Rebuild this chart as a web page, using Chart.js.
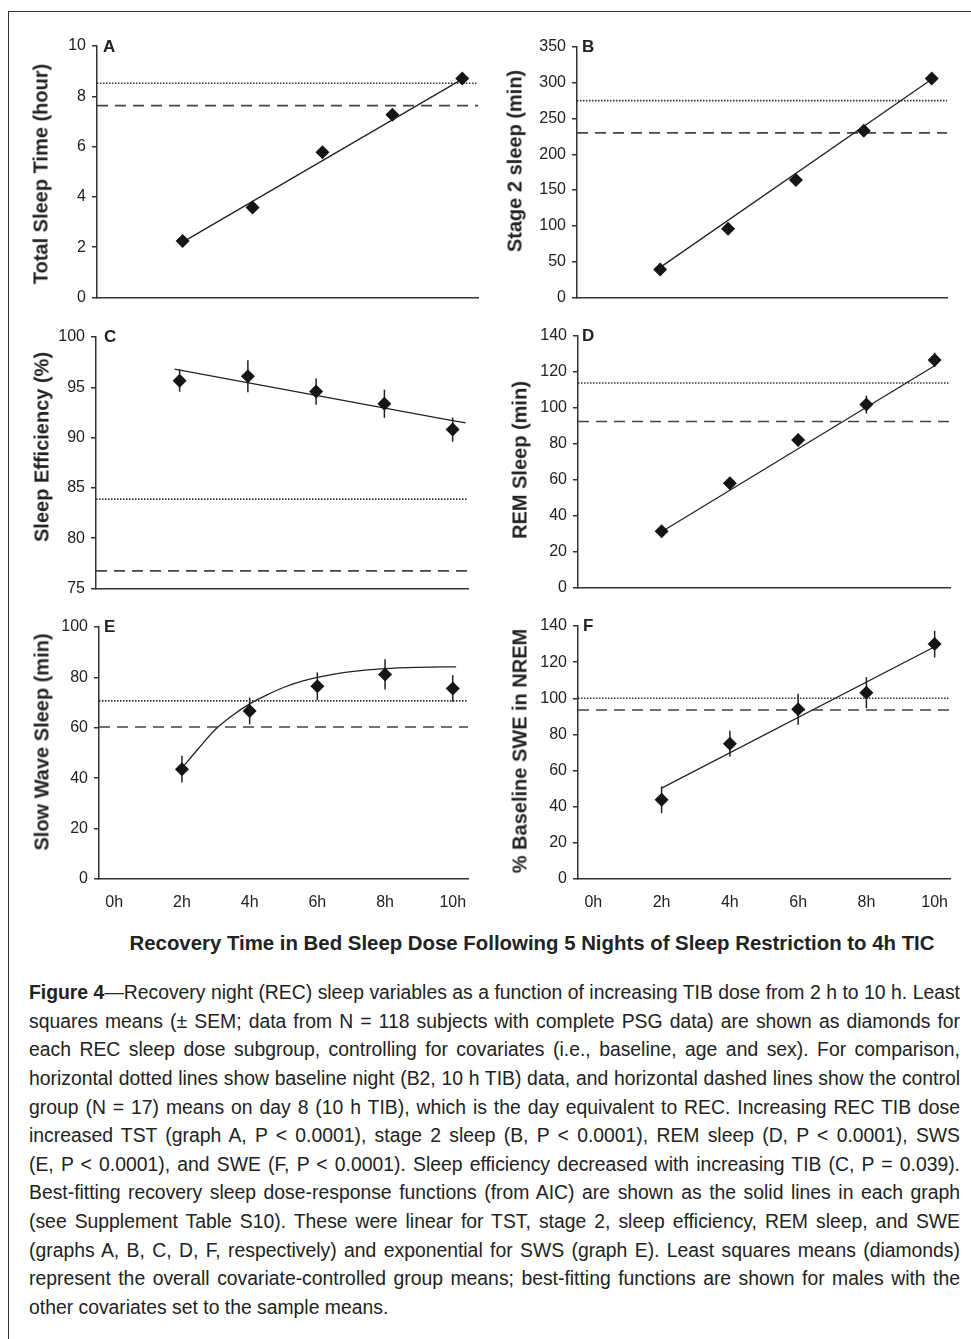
<!DOCTYPE html>
<html>
<head>
<meta charset="utf-8">
<script src="https://cdn.jsdelivr.net/npm/chart.js@4.4.1/dist/chart.umd.min.js"></script>
<style>
  body { margin: 0; background: #fff; width: 971px; height: 1339px; position: relative; overflow: hidden;
         font-family: 'Liberation Sans', Arial, sans-serif; color: #222; }
  .frame { position: absolute; left: 8px; top: 11px; width: 1000px; height: 1400px;
           border-left: 1.5px solid #333; border-top: 1.5px solid #333; }
  canvas { position: absolute; }
  .ytitle { position: absolute; font-weight: bold; font-size: 20px; white-space: nowrap;
            transform: translate(-50%, -50%) rotate(-90deg); }
  .letter { position: absolute; font-weight: bold; font-size: 17px; transform: translateY(-50%); }
  #xtitle { position: absolute; left: 532px; top: 943px; font-weight: bold; font-size: 21px; white-space: nowrap; }
  #caption { position: absolute; left: 29px; top: 978px; font-size: 20px; line-height: 28.64px;
             transform-origin: 0 0; white-space: nowrap; width: 1400px; }
  #caption.fit .ln { white-space: normal; text-align: justify; text-align-last: justify; }
  #caption.fit .ln.last { text-align-last: left; }
</style>
</head>
<body>
<div class="frame"></div>
<div id="xtitle">Recovery Time in Bed Sleep Dose Following 5 Nights of Sleep Restriction to 4h TIC</div>
<div id="caption">
  <div class="ln"><span class="t"><b>Figure 4</b>—Recovery night (REC) sleep variables as a function of increasing TIB dose from 2 h to 10 h. Least</span></div>
  <div class="ln"><span class="t">squares means (± SEM; data from N = 118 subjects with complete PSG data) are shown as diamonds for</span></div>
  <div class="ln"><span class="t">each REC sleep dose subgroup, controlling for covariates (i.e., baseline, age and sex). For comparison,</span></div>
  <div class="ln"><span class="t">horizontal dotted lines show baseline night (B2, 10 h TIB) data, and horizontal dashed lines show the control</span></div>
  <div class="ln"><span class="t">group (N = 17) means on day 8 (10 h TIB), which is the day equivalent to REC. Increasing REC TIB dose</span></div>
  <div class="ln"><span class="t">increased TST (graph A, P &lt; 0.0001), stage 2 sleep (B, P &lt; 0.0001), REM sleep (D, P &lt; 0.0001), SWS</span></div>
  <div class="ln"><span class="t">(E, P &lt; 0.0001), and SWE (F, P &lt; 0.0001). Sleep efficiency decreased with increasing TIB (C, P = 0.039).</span></div>
  <div class="ln"><span class="t">Best-fitting recovery sleep dose-response functions (from AIC) are shown as the solid lines in each graph</span></div>
  <div class="ln"><span class="t">(see Supplement Table S10). These were linear for TST, stage 2, sleep efficiency, REM sleep, and SWE</span></div>
  <div class="ln"><span class="t">(graphs A, B, C, D, F, respectively) and exponential for SWS (graph E). Least squares means (diamonds)</span></div>
  <div class="ln"><span class="t">represent the overall covariate-controlled group means; best-fitting functions are shown for males with the</span></div>
  <div class="ln last"><span class="t">other covariates set to the sample means.</span></div>
</div>
<script>
// recovery TIB doses (hours) and x axis
const doses = [2, 4, 6, 8, 10]
const xTicks = [0, 2, 4, 6, 8, 10]
const xRange = [-0.45, 10.45]

// A - total sleep time (hour)
const tstMeans = [2.24, 3.58, 5.77, 7.27, 8.71]
const tstSem = [0.1, 0.12, 0.12, 0.12, 0.1]
const tstFitX = [2, 10]
const tstFitY = [2.2, 8.68]
const tstRef = [8.52, 7.63] // baseline (dotted), control day 8 (dashed)

// B - stage 2 sleep (min)
const s2Means = [39, 96, 164, 233, 306]
const s2Sem = [4, 5, 6, 6, 6]
const s2FitX = [2, 10]
const s2FitY = [42, 305]
const s2Ref = [275, 230]

// C - sleep efficiency (%)
const seMeans = [95.66, 96.1, 94.57, 93.36, 90.79]
const seSem = [1.1, 1.6, 1.3, 1.4, 1.2]
const seFitX = [1.85, 10.38]
const seFitY = [96.8, 91.45]
const seRef = [83.88, 76.74]

// D - REM sleep (min)
const remMeans = [31.3, 58, 82.1, 101.8, 126.7]
const remSem = [2.5, 3, 3.5, 5, 4]
const remFitX = [2, 10]
const remFitY = [31, 123.4]
const remRef = [113.8, 92.4]

// E - slow wave sleep (min), exponential fit
const swsMeans = [43.6, 66.7, 76.5, 81.2, 75.6]
const swsSem = [5.3, 5.3, 5.5, 6, 5.3]
const swsFitX = [2, 2.5, 3, 3.5, 4, 4.5, 5, 5.5, 6, 6.5, 7, 8, 9, 10.1]
const swsFitY = [44, 52, 59.5, 65, 69.5, 73, 76, 78.3, 80, 81.3, 82.3, 83.5, 84, 84.2]
const swsRef = [70.7, 60.3]

// F - % baseline SWE in NREM
const sweMeans = [43.8, 74.8, 93.9, 103.1, 130]
const sweSem = [7.4, 7.2, 8.6, 8.6, 7.4]
const sweFitX = [2, 10]
const sweFitY = [50.3, 128.5]
const sweRef = [100, 93.5]

const FONT = "'Liberation Sans', Arial, sans-serif"

// layout: plot area [left, top, right, bottom], axis title centre, letter position
const panels = [
  { letter: 'A', title: 'Total Sleep Time (hour)', means: tstMeans, sem: tstSem, fitX: tstFitX, fitY: tstFitY, ref: tstRef,
    yMin: 0, yMax: 10, yStep: 2, area: [97, 46, 478, 299], titleAt: [41, 174], letterAt: [103, 47], showX: false },
  { letter: 'B', title: 'Stage 2 sleep (min)', means: s2Means, sem: s2Sem, fitX: s2FitX, fitY: s2FitY, ref: s2Ref,
    yMin: 0, yMax: 350, yStep: 50, area: [577, 47, 947, 299], titleAt: [515, 161], letterAt: [582, 47], showX: false },
  { letter: 'C', title: 'Sleep Efficiency (%)', means: seMeans, sem: seSem, fitX: seFitX, fitY: seFitY, ref: seRef,
    yMin: 75, yMax: 100, yStep: 5, area: [96, 337, 468, 590], titleAt: [42, 447], letterAt: [104, 337], showX: false },
  { letter: 'D', title: 'REM Sleep (min)', means: remMeans, sem: remSem, fitX: remFitX, fitY: remFitY, ref: remRef,
    yMin: 0, yMax: 140, yStep: 20, area: [578, 336, 950, 589], titleAt: [520, 460], letterAt: [582, 336], showX: false },
  { letter: 'E', title: 'Slow Wave Sleep (min)', means: swsMeans, sem: swsSem, fitX: swsFitX, fitY: swsFitY, ref: swsRef,
    yMin: 0, yMax: 100, yStep: 20, area: [99, 627, 468, 879], titleAt: [42, 742], letterAt: [104, 627], showX: true },
  { letter: 'F', title: '% Baseline SWE in NREM', means: sweMeans, sem: sweSem, fitX: sweFitX, fitY: sweFitY, ref: sweRef,
    yMin: 0, yMax: 140, yStep: 20, area: [578, 626, 950, 879], titleAt: [520, 751], letterAt: [583, 626], showX: true },
]

function makePanel(p) {
  const [l, t, r, b] = p.area
  const padL = 90, padT = 16, padR = 22
  const padB = p.showX ? 40 : 14

  const canvas = document.createElement('canvas')
  canvas.width = r - l + padL + padR
  canvas.height = b - t + padT + padB
  canvas.style.left = (l - padL) + 'px'
  canvas.style.top = (t - padT) + 'px'
  document.body.appendChild(canvas)

  const title = document.createElement('div')
  title.className = 'ytitle'
  title.textContent = p.title
  title.style.left = p.titleAt[0] + 'px'
  title.style.top = p.titleAt[1] + 'px'
  document.body.appendChild(title)

  const letter = document.createElement('div')
  letter.className = 'letter'
  letter.textContent = p.letter
  letter.style.left = p.letterAt[0] + 'px'
  letter.style.top = p.letterAt[1] + 'px'
  document.body.appendChild(letter)

  // vertical SEM bars, under the diamonds
  const semBars = {
    id: 'semBars',
    beforeDatasetsDraw(chart) {
      const { ctx, scales: { x, y } } = chart
      ctx.save()
      ctx.strokeStyle = '#222'
      ctx.lineWidth = 1.5
      doses.forEach((d, i) => {
        const px = x.getPixelForValue(d)
        ctx.beginPath()
        ctx.moveTo(px, y.getPixelForValue(p.means[i] - p.sem[i]))
        ctx.lineTo(px, y.getPixelForValue(p.means[i] + p.sem[i]))
        ctx.stroke()
      })
      ctx.restore()
    },
  }

  new Chart(canvas, {
    type: 'scatter',
    data: {
      datasets: [
        {
          data: doses.map((x, i) => ({ x, y: p.means[i] })),
          pointStyle: 'rectRot', pointRadius: 7, pointHoverRadius: 7,
          backgroundColor: '#151515', borderWidth: 0,
        },
        {
          data: p.fitX.map((x, i) => ({ x, y: p.fitY[i] })),
          showLine: true, pointRadius: 0, borderColor: '#222', borderWidth: 1.3,
          cubicInterpolationMode: 'monotone',
        },
        {
          data: xRange.map((x) => ({ x, y: p.ref[0] })),
          showLine: true, pointRadius: 0, borderColor: '#333', borderWidth: 1.6, borderDash: [1.5, 1.5],
        },
        {
          data: xRange.map((x) => ({ x, y: p.ref[1] })),
          showLine: true, pointRadius: 0, borderColor: '#444', borderWidth: 1.6, borderDash: [11, 7],
        },
      ],
    },
    options: {
      responsive: false,
      animation: false,
      devicePixelRatio: 1,
      events: [],
      layout: { padding: { top: padT, right: padR, left: 0, bottom: 0 } },
      plugins: { legend: { display: false }, tooltip: { enabled: false } },
      scales: {
        x: {
          type: 'linear',
          min: xRange[0],
          max: xRange[1],
          afterBuildTicks: (s) => { s.ticks = xTicks.map((v) => ({ value: v })) },
          afterFit: (s) => { s.height = padB },
          grid: { display: false, drawTicks: false },
          border: { display: true, color: '#333', width: 1.5 },
          ticks: { display: p.showX, padding: 14, color: '#222', font: { family: FONT, size: 16 },
                   callback: (v) => v + 'h' },
        },
        y: {
          min: p.yMin,
          max: p.yMax,
          afterFit: (s) => { s.width = padL },
          grid: { drawOnChartArea: false, drawTicks: true, tickLength: 5, color: '#333', lineWidth: 1.5 },
          border: { display: true, color: '#333', width: 1.5 },
          ticks: { stepSize: p.yStep, padding: 6, color: '#222', font: { family: FONT, size: 16 } },
        },
      },
    },
    plugins: [semBars],
  })
}

panels.forEach(makePanel)

// fit the shared x title to its width in the figure
const xt = document.getElementById('xtitle')
const xs = 805 / xt.getBoundingClientRect().width
xt.style.transform = `translate(-50%, -50%) scaleX(${xs})`

// caption: condense to the column and justify each original line
const cap = document.getElementById('caption')
const natural = Math.max(...[...cap.querySelectorAll('.t')].map((s) => s.getBoundingClientRect().width))
const cs = 929 / natural
cap.style.width = (931 / cs) + 'px'
cap.style.transform = `scaleX(${cs})`
cap.classList.add('fit')
</script>
</body>
</html>
